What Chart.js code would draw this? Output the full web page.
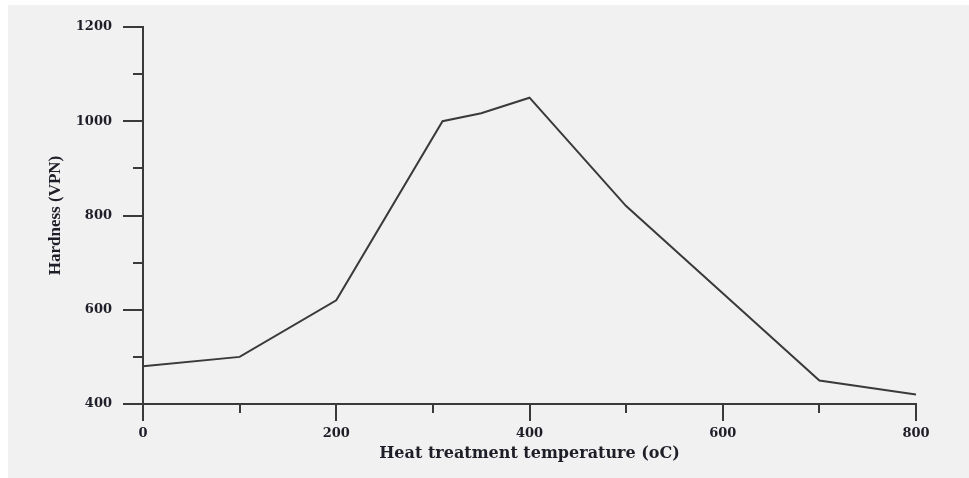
<!DOCTYPE html>
<html>
<head>
<meta charset="utf-8">
<script src="https://cdn.jsdelivr.net/npm/chart.js@4/dist/chart.umd.min.js"></script>
<style>
  body { margin: 0; background: #fff; }
  #wrap { position: absolute; left: 8px; top: 5px; width: 961px; height: 473px; background: #f1f1f1; }
</style>
</head>
<body>
<div id="wrap"><canvas id="hardness" width="961" height="473"></canvas></div>
<script>
// heat treatment temperature (oC) and hardness (VPN)
const temps    = [0, 100, 200, 310, 350, 400, 500, 600, 700, 800];
const hardness = [480, 500, 620, 1000, 1017, 1050, 820, 635, 450, 420];

const xMajor = [0, 200, 400, 600, 800];
const yMajor = [400, 600, 800, 1000, 1200];

const ink = '#3a3a3a';
const txt = '#1e1e28';

// tick marks: long at labelled values, short in between
const tickMarks = {
  id: 'tickMarks',
  afterDraw(chart) {
    const { ctx, scales: { x, y } } = chart;
    ctx.save();
    ctx.strokeStyle = ink;
    ctx.lineWidth = 2;
    for (let v = 0; v <= 800; v += 100) {
      const px = Math.round(x.getPixelForValue(v));
      const len = xMajor.includes(v) ? 17 : 9;
      ctx.beginPath();
      ctx.moveTo(px, y.bottom);
      ctx.lineTo(px, y.bottom + len);
      ctx.stroke();
    }
    for (let v = 400; v <= 1200; v += 100) {
      const py = Math.round(y.getPixelForValue(v));
      const len = yMajor.includes(v) ? 20 : 10;
      ctx.beginPath();
      ctx.moveTo(x.left, py);
      ctx.lineTo(x.left - len, py);
      ctx.stroke();
    }
    ctx.restore();
  }
};

const ctx = document.getElementById('hardness');
new Chart(ctx, {
  type: 'line',
  data: {
    datasets: [{
      label: 'Hardness',
      data: temps.map((t, i) => ({ x: t, y: hardness[i] })),
      borderColor: ink,
      borderWidth: 2,
      pointRadius: 0,
      tension: 0,
      fill: false
    }]
  },
  options: {
    responsive: false,
    animation: false,
    layout: { autoPadding: false, padding: { left: 0, right: 53, top: 22, bottom: 0 } },
    plugins: { legend: { display: false }, tooltip: { enabled: false } },
    scales: {
      x: {
        type: 'linear',
        min: 0,
        max: 800,
        afterFit: (s) => { s.height = 74; s.paddingLeft = 0; s.paddingRight = 0; },
        grid: { display: false, drawTicks: false },
        border: { display: true, color: ink, width: 2 },
        ticks: {
          stepSize: 200,
          padding: 22,
          color: txt,
          maxRotation: 0,
          callback: (v) => String(v),
          font: { family: 'DejaVu Serif', weight: 'bold', size: 13 }
        },
        title: {
          display: true,
          text: 'Heat treatment temperature (oC)',
          color: txt,
          padding: { top: 0, bottom: 15 },
          font: { family: 'DejaVu Serif', weight: 'bold', size: 16 }
        }
      },
      y: {
        min: 400,
        max: 1200,
        afterFit: (s) => { s.width = 135; s.paddingTop = 0; s.paddingBottom = 0; },
        grid: { display: false, drawTicks: false },
        border: { display: true, color: ink, width: 2 },
        ticks: {
          stepSize: 200,
          padding: 31,
          color: txt,
          callback: (v) => String(v),
          font: { family: 'DejaVu Serif', weight: 'bold', size: 13 }
        },
        title: {
          display: true,
          text: 'Hardness (VPN)',
          color: txt,
          padding: { top: 37, bottom: 0 },
          font: { family: 'Liberation Serif', weight: 'bold', size: 17 }
        }
      }
    }
  },
  plugins: [tickMarks]
});
</script>
</body>
</html>
